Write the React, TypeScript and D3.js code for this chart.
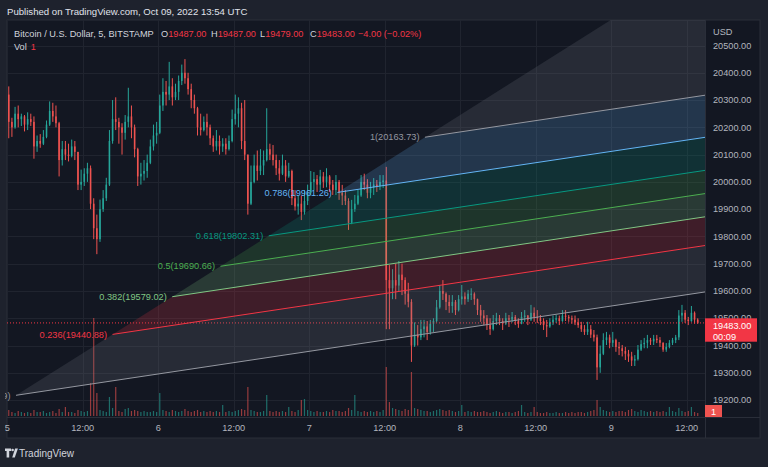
import React from "react";
import * as d3 from "d3";

const W = 768;
const H = 467;
const T0 = Date.UTC(2022, 9, 5, 0, 0);
const SLOT_MS = 30 * 60 * 1000;
const FIRST_OPEN = 20320;

// 30-minute OHLC (open = previous close)
const closes = [
  20220, 20200, 20250, 20230, 20240, 20210, 20230, 20220, 20130, 20150,
  20140, 20165, 20210, 20260, 20240, 20215, 20080, 20120, 20100, 20095,
  20130, 20110, 19990, 20000, 20030, 20050, 19920, 19830, 19790, 19900,
  19940, 19990, 20150, 20230, 20220, 20200, 20180, 20220, 20240, 20200,
  20120, 20020, 20030, 20040, 20070, 20130, 20170, 20180, 20280, 20330,
  20320, 20350, 20310, 20330, 20370, 20400, 20380, 20340, 20300, 20270,
  20200, 20190, 20220, 20200, 20160, 20130, 20150, 20130, 20140, 20120,
  20150, 20230, 20250, 20270, 20150, 20100, 19920, 20000, 20060, 20040,
  20060, 20080, 20120, 20100, 20080, 20050, 20030, 20060, 20020, 20040,
  19940, 19910, 19920, 19890, 19930, 19960, 20000, 20010, 19990, 20020,
  20000, 20020, 19990, 19970, 20000, 19960, 19950, 19930, 19850, 19900,
  19920, 19950, 20000, 19990, 19960, 19980, 19990, 19985, 20000, 20005,
  19640, 19610, 19640, 19620, 19660, 19640, 19590, 19560, 19400, 19440,
  19430, 19460, 19470, 19450, 19480, 19490, 19540, 19600, 19590, 19560,
  19545, 19560, 19530, 19570, 19580, 19570, 19590, 19590, 19570, 19530,
  19510, 19500, 19475, 19460, 19490, 19500, 19490, 19480, 19500, 19495,
  19505, 19490, 19480, 19505, 19510, 19495, 19520, 19505, 19500, 19490,
  19475, 19470, 19485, 19495, 19500, 19490, 19510, 19505, 19500, 19495,
  19485, 19475, 19460, 19450, 19460, 19440, 19430, 19320, 19370, 19420,
  19430, 19410, 19420, 19395, 19390, 19380, 19370, 19360, 19345, 19350,
  19385, 19405, 19410, 19420, 19415, 19425, 19420, 19410, 19385, 19395,
  19410, 19420, 19430, 19510, 19520, 19495, 19490, 19520, 19495, 19483,
];
const highs = [
  20350, 20235, 20275, 20280, 20250, 20245, 20255, 20250, 20240, 20170,
  20175, 20190, 20225, 20295, 20290, 20280, 20220, 20150, 20150, 20140,
  20155, 20150, 20110, 20045, 20050, 20070, 20060, 19940, 19880, 19935,
  19970, 20015, 20190, 20300, 20310, 20235, 20215, 20245, 20345, 20280,
  20210, 20125, 20070, 20080, 20100, 20155, 20210, 20220, 20320, 20380,
  20370, 20440, 20380, 20360, 20390, 20430, 20450, 20400, 20360, 20320,
  20275, 20250, 20240, 20250, 20210, 20170, 20190, 20170, 20160, 20160,
  20170, 20265, 20320, 20310, 20290, 20300, 20100, 20060, 20100, 20115,
  20120, 20115, 20270, 20140, 20135, 20100, 20080, 20100, 20080, 20070,
  20045, 19970, 19950, 19950, 19970, 19990, 20040, 20036, 20025, 20044,
  20036, 20050, 20025, 20007, 20025, 20007, 19989, 19970, 19940, 19934,
  19952, 19970, 20025, 20030, 20010, 20000, 20014, 20007, 20025, 20025,
  20055, 19695, 19680, 19700, 19710, 19700, 19650, 19630, 19570, 19485,
  19475, 19494, 19494, 19490, 19494, 19500, 19567, 19622, 19640, 19595,
  19585, 19585, 19567, 19585, 19622, 19595, 19604, 19610, 19595, 19572,
  19549, 19530, 19512, 19500, 19512, 19520, 19512, 19500, 19520, 19512,
  19523, 19512, 19500, 19523, 19530, 19512, 19549, 19540, 19530, 19512,
  19500, 19494, 19500, 19510, 19512, 19510, 19530, 19530, 19512, 19510,
  19510, 19500, 19487, 19475, 19487, 19475, 19457, 19440, 19400, 19445,
  19450, 19440, 19450, 19425, 19413, 19402, 19395, 19384, 19377, 19365,
  19402, 19420, 19428, 19439, 19428, 19439, 19439, 19431, 19412, 19409,
  19420, 19428, 19439, 19530, 19549, 19530, 19505, 19545, 19525, 19500,
];
const lows = [
  20160, 20165, 20195, 20200, 20205, 20185, 20190, 20205, 20085, 20110,
  20125, 20135, 20160, 20205, 20220, 20200, 20020, 20060, 20080, 20075,
  20090, 20080, 19970, 19970, 19985, 20000, 19900, 19790, 19735, 19780,
  19890, 19930, 19985, 20140, 20190, 20140, 20100, 20155, 20200, 20160,
  20090, 19985, 19990, 20005, 20015, 20065, 20115, 20140, 20175, 20260,
  20280, 20300, 20280, 20300, 20300, 20355, 20360, 20320, 20270, 20250,
  20170, 20170, 20185, 20170, 20135, 20110, 20115, 20100, 20110, 20100,
  20115, 20145, 20210, 20200, 20120, 20080, 19880, 19915, 19995, 20005,
  20025, 20025, 20075, 20080, 20060, 20025, 20005, 20025, 20000, 20015,
  19915, 19895, 19880, 19860, 19880, 19915, 19950, 19970, 19963, 19970,
  19978, 19980, 19963, 19952, 19952, 19934, 19915, 19915, 19824, 19845,
  19890, 19915, 19945, 19970, 19940, 19940, 19952, 19963, 19970, 19978,
  19460, 19460, 19570, 19570, 19600, 19585, 19550, 19540, 19340, 19395,
  19400, 19420, 19430, 19420, 19440, 19450, 19485, 19535, 19567, 19530,
  19520, 19520, 19512, 19525, 19550, 19550, 19560, 19567, 19549, 19512,
  19487, 19475, 19457, 19439, 19455, 19475, 19475, 19457, 19475, 19468,
  19485, 19475, 19465, 19478, 19487, 19475, 19490, 19487, 19483, 19475,
  19457, 19431, 19465, 19475, 19483, 19475, 19487, 19490, 19487, 19480,
  19475, 19465, 19450, 19439, 19439, 19428, 19415, 19274, 19300, 19365,
  19402, 19390, 19395, 19377, 19365, 19360, 19347, 19340, 19325, 19325,
  19345, 19380, 19390, 19390, 19402, 19402, 19409, 19395, 19377, 19377,
  19390, 19402, 19409, 19420, 19487, 19483, 19475, 19487, 19480, 19479,
];
const volumes = [
  6, 4, 3, 5, 4, 3, 4, 3, 6, 4,
  4, 5, 3, 4, 5, 3, 7, 4, 9, 4,
  4, 3, 6, 5, 4, 5, 33, 98, 23, 6,
  5, 4, 19, 8, 29, 5, 4, 7, 8, 5,
  6, 5, 4, 5, 4, 4, 5, 4, 23, 6,
  5, 4, 6, 5, 4, 5, 7, 5, 4, 5,
  6, 4, 5, 4, 5, 4, 5, 4, 11, 4,
  5, 4, 5, 6, 7, 6, 29, 6, 5, 4,
  4, 5, 21, 5, 4, 5, 4, 5, 4, 9,
  5, 4, 6, 16, 17, 6, 5, 4, 5, 4,
  4, 5, 4, 6, 5, 5, 4, 5, 8, 6,
  21, 5, 4, 5, 4, 5, 4, 5, 4, 6,
  49, 14, 8, 7, 6, 5, 7, 6, 44, 8,
  7, 6, 5, 5, 4, 5, 6, 7, 6, 5,
  6, 5, 4, 5, 11, 4, 5, 4, 5, 4,
  4, 5, 4, 3, 4, 5, 4, 3, 4, 4,
  3, 4, 5, 11, 4, 3, 4, 9, 4, 3,
  3, 4, 3, 3, 4, 3, 3, 4, 3, 4,
  3, 4, 4, 3, 4, 5, 6, 16, 9, 6,
  5, 4, 5, 4, 5, 5, 4, 6, 7, 5,
  4, 6, 5, 4, 5, 4, 5, 4, 5, 4,
  9, 5, 4, 8, 5, 4, 5, 9, 4, 3,
];

const priceTicks = [20500, 20400, 20300, 20200, 20100, 20000, 19900, 19800, 19700, 19600, 19500, 19400, 19300, 19200];
const timeTicks = [
  Date.UTC(2022, 9, 5, 0), Date.UTC(2022, 9, 5, 12),
  Date.UTC(2022, 9, 6, 0), Date.UTC(2022, 9, 6, 12),
  Date.UTC(2022, 9, 7, 0), Date.UTC(2022, 9, 7, 12),
  Date.UTC(2022, 9, 8, 0), Date.UTC(2022, 9, 8, 12),
  Date.UTC(2022, 9, 9, 0), Date.UTC(2022, 9, 9, 12),
];
const timeTickLabels = ["5", "12:00", "6", "12:00", "7", "12:00", "8", "12:00", "9", "12:00"];

const fibLevels = [0, 0.236, 0.382, 0.5, 0.618, 0.786, 1, 1.618];
const fibPrices = [19217.59, 19440.88, 19579.02, 19690.66, 19802.31, 19961.26, 20163.73, 20748.44];
const fibColors = ["#9598a1", "#f23645", "#81c784", "#4caf50", "#089981", "#64b5f6", "#9598a1", "#2962ff"];
const fibFillColors = ["#787b86", "#f23645", "#81c784", "#4caf50", "#089981", "#64b5f6", "#787b86", "#2962ff"];
const fibAnchorStart = Date.UTC(2022, 9, 5, 1, 24);
const fibAnchorTop = Date.UTC(2022, 9, 7, 18, 24);
const fibTrendEndTime = Date.UTC(2022, 9, 9, 14, 0);
const fibTrendEndPrice = 19593.3;

const lastPrice = 19483;
const UP = "#26a69a";
const DOWN = "#ef5350";
const FONT = "'Liberation Sans', Arial, sans-serif";

const PL = 7, PR = 705, PT = 20, PB = 417;

export default function App() {
  const x = d3.scaleUtc().domain([Date.UTC(2022, 9, 5, 0), Date.UTC(2022, 9, 9, 0)]).range([7.2, 611.2]);
  const y = d3.scaleLinear().domain([19200, 20500]).range([400.1, 45.5]);
  const yVol = d3.scaleLinear().domain([0, 100]).range([416, 316]);

  const candles = closes.map((c, i) => {
    const o = i === 0 ? FIRST_OPEN : closes[i - 1];
    const t = T0 + i * SLOT_MS + SLOT_MS / 2;
    return { t, o, c, h: highs[i], l: lows[i], v: volumes[i] };
  });
  const bw = Math.max(1, (x(T0 + SLOT_MS) - x(T0)) * 0.5);

  const slope = (fibTrendEndPrice - fibPrices[0]) / (fibTrendEndTime - fibAnchorStart);
  const tEnd = x.invert(PR + 2).getTime();
  const fib = fibLevels.map((L, i) => {
    const ts = fibAnchorStart + L * (fibAnchorTop - fibAnchorStart);
    const ps = fibPrices[i];
    const pe = ps + slope * (tEnd - ts);
    return { L, x1: x(ts), y1: y(ps), x2: x(tEnd), y2: y(pe), price: ps, color: fibColors[i], fill: fibFillColors[i] };
  });

  return (
    <svg width={W} height={H} style={{ position: "absolute", left: 0, top: 0, display: "block" }} fontFamily={FONT}>
      <defs>
        <clipPath id="plotClip"><rect x={PL} y={PT} width={PR - PL} height={PB - PT} /></clipPath>
        <clipPath id="fibClip"><rect x={5} y={PT} width={PR - 5} height={PB - PT} /></clipPath>
        <clipPath id="timeClip"><rect x={5} y={PB} width={PR - 5} height={22} /></clipPath>
      </defs>
      <rect x={0} y={0} width={W} height={H} fill="#1e222d" />
      <rect x={PL} y={PT} width={760 - PL} height={438 - PT} fill="#131722" stroke="#2a2e39" strokeWidth={1} />
      <text x={7} y={15} fontSize={9.6} fill="#e0e3eb">Published on TradingView.com, Oct 09, 2022 13:54 UTC</text>

      {/* grid */}
      <g stroke="#20242f" strokeWidth={1}>
        {priceTicks.map((p) => (
          <line key={p} x1={PL} x2={PR} y1={Math.round(y(p)) + 0.5} y2={Math.round(y(p)) + 0.5} />
        ))}
        {timeTicks.map((t) => (
          <line key={t} x1={Math.round(x(t)) + 0.5} x2={Math.round(x(t)) + 0.5} y1={PT} y2={PB} />
        ))}
      </g>

      <g clipPath="url(#plotClip)">
        {candles.map((d, i) => (
          <rect key={"v" + i} x={x(d.t) - 0.6} width={1.2} y={yVol(d.v)} height={yVol(0) - yVol(d.v)}
            fill={d.c >= d.o ? UP : DOWN} opacity={0.6} />
        ))}
        {candles.map((d, i) => {
          const col = d.c >= d.o ? UP : DOWN;
          const cx = x(d.t);
          const top = y(Math.max(d.o, d.c));
          const bot = y(Math.min(d.o, d.c));
          return (
            <g key={"c" + i}>
              <line x1={cx} x2={cx} y1={y(d.h)} y2={y(d.l)} stroke={col} strokeWidth={1} />
              <rect x={cx - bw / 2} width={bw} y={top} height={Math.max(1, bot - top)} fill={col} />
            </g>
          );
        })}
        <line x1={PL} x2={PR} y1={y(lastPrice)} y2={y(lastPrice)} stroke="#f23645" strokeWidth={1} strokeDasharray="1,2" />
      </g>

      <g clipPath="url(#fibClip)">
        {fib.slice(0, -1).map((f, i) => {
          const g2 = fib[i + 1];
          return (
            <polygon key={"b" + i}
              points={`${f.x1},${f.y1} ${f.x2},${f.y2} ${g2.x2},${g2.y2} ${g2.x1},${g2.y1}`}
              fill={f.fill} fillOpacity={0.2} />
          );
        })}
        {fib.slice(0, -1).map((f, i) => (
          <line key={"l" + i} x1={f.x1} y1={f.y1} x2={f.x2} y2={f.y2} stroke={f.color} strokeWidth={1} />
        ))}
        {fib.slice(0, -1).map((f, i) => (
          <text key={"t" + i} x={f.x1 - 5.5} y={f.y1} dy="0.35em" textAnchor="end" fontSize={9.2} fill={f.color}>
            {`${f.L}(${f.price.toFixed(2)})`}
          </text>
        ))}
      </g>

      {/* legend */}
      <text x={14} y={36.5} fontSize={9.2} fill="#d1d4dc">Bitcoin / U.S. Dollar, 5, BITSTAMP</text>
      <text x={161} y={36.5} fontSize={9.2} fill="#d1d4dc">O<tspan fill="#f23645">19487.00</tspan></text>
      <text x={211} y={36.5} fontSize={9.2} fill="#d1d4dc">H<tspan fill="#f23645">19487.00</tspan></text>
      <text x={260} y={36.5} fontSize={9.2} fill="#d1d4dc">L<tspan fill="#f23645">19479.00</tspan></text>
      <text x={310} y={36.5} fontSize={9.2} fill="#d1d4dc">C<tspan fill="#f23645">19483.00</tspan></text>
      <text x={358} y={36.5} fontSize={9.2} fill="#f23645">−4.00 (−0.02%)</text>
      <text x={14} y={49.5} fontSize={9.2} fill="#d1d4dc">Vol<tspan fill="#f23645" dx={4}>1</tspan></text>

      {/* price axis */}
      <line x1={PR + 0.5} x2={PR + 0.5} y1={PT} y2={438} stroke="#2a2e39" />
      <line x1={PL} x2={760} y1={PB + 0.5} y2={PB + 0.5} stroke="#2a2e39" />
      <text x={713} y={34.5} fontSize={9.2} fill="#b2b5be">USD</text>
      {priceTicks.map((p) => (
        <text key={p} x={713} y={y(p)} dy="0.35em" fontSize={9.2} fill="#b2b5be">{p.toFixed(2)}</text>
      ))}
      <rect x={PR} y={y(lastPrice) - 4.6} width={52} height={23.4} fill="#f23645" />
      <text x={713} y={y(lastPrice) + 5.6} fontSize={9.2} fill="#ffffff">{lastPrice.toFixed(2)}</text>
      <text x={713} y={y(lastPrice) + 17} fontSize={9.2} fill="#ffffff">00:09</text>
      <rect x={PR} y={405} width={17} height={12} fill="#ef5350" />
      <text x={713.5} y={414.5} fontSize={9.2} fill="#ffffff" textAnchor="middle">1</text>

      {/* time axis */}
      <g clipPath="url(#timeClip)">
        {timeTicks.map((t, i) => (
          <text key={t} x={x(t)} y={431} fontSize={9.2} fill="#b2b5be" textAnchor="middle">{timeTickLabels[i]}</text>
        ))}
      </g>

      {/* footer logo */}
      <g fill="#d1d4dc">
        <path d="M5 448.5h6v2.6h-1.8v6.4h-2.6v-6.4H5z" />
        <circle cx={12.6} cy={450} r={1.3} />
        <path d="M12.2 457.5l2.9-9h2.8l-3.1 9z" />
      </g>
      <text x={19} y={456.5} fontSize={10} fill="#d1d4dc">TradingView</text>
    </svg>
  );
}
